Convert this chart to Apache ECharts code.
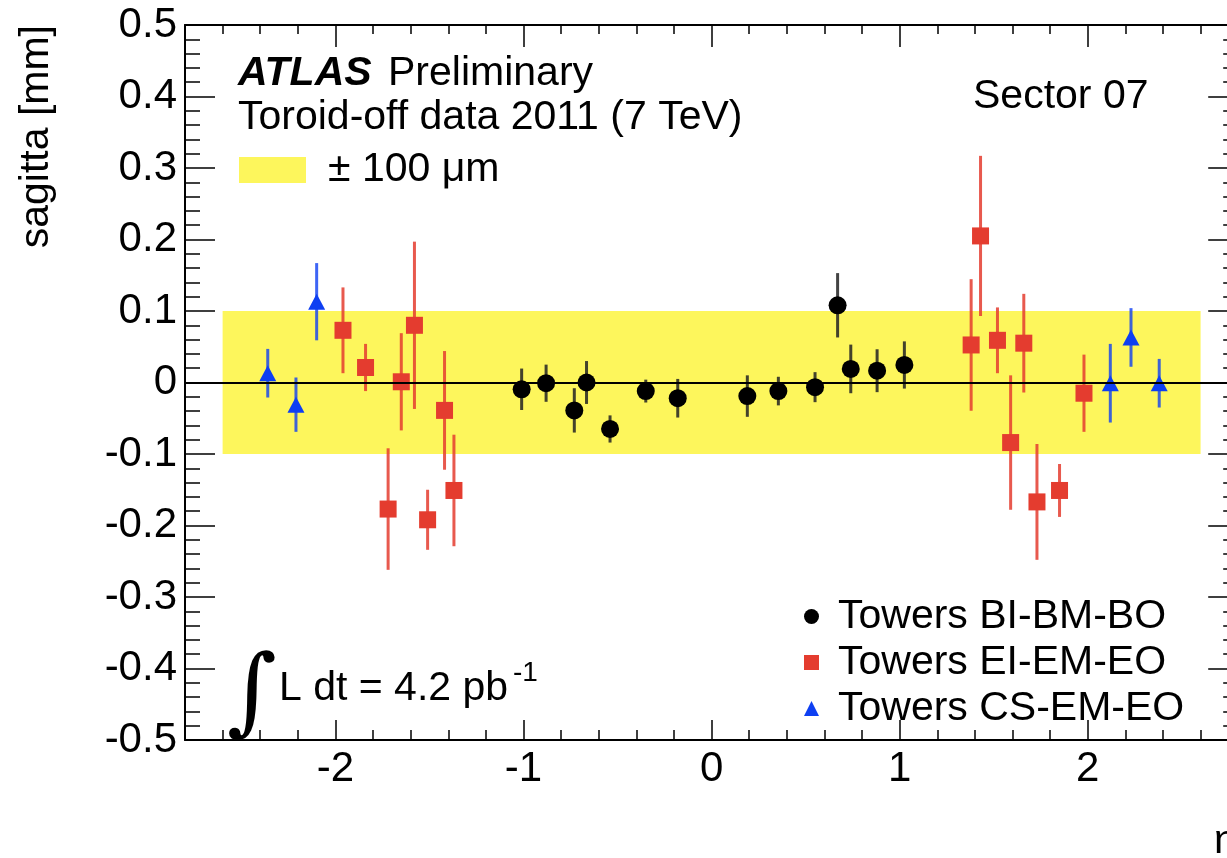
<!DOCTYPE html>
<html>
<head>
<meta charset="utf-8">
<title>Sagitta vs eta, Sector 07</title>
<script src="https://cdn.jsdelivr.net/npm/echarts@6/dist/echarts.min.js"></script>
<style>
  html, body { margin: 0; padding: 0; background: #fff; overflow: hidden; }
  #chart { width: 1240px; height: 858px; }
</style>
</head>
<body>
<div id="chart"></div>
<script>
// Barrel towers (BI-BM-BO)
const barrelEta = [-1.01, -0.88, -0.73, -0.665, -0.54, -0.35, -0.18, 0.19, 0.355, 0.55, 0.67, 0.74, 0.88, 1.025];
const barrelSag = [-0.0095, -0.001, -0.039, 0.000, -0.065, -0.012, -0.022, -0.019, -0.012, -0.0065, 0.108, 0.019, 0.0165, 0.0245];
const barrelErr = [0.029, 0.026, 0.031, 0.030, 0.019, 0.016, 0.027, 0.029, 0.020, 0.021, 0.045, 0.034, 0.030, 0.033];

// Endcap towers (EI-EM-EO)
const endcapEta = [-1.96, -1.84, -1.72, -1.65, -1.58, -1.51, -1.42, -1.37, 1.38, 1.43, 1.52, 1.59, 1.66, 1.73, 1.85, 1.98];
const endcapSag = [0.073, 0.021, -0.177, 0.001, 0.080, -0.192, -0.039, -0.151, 0.0525, 0.205, 0.059, -0.084, 0.055, -0.167, -0.151, -0.015];
const endcapErr = [0.060, 0.033, 0.085, 0.068, 0.117, 0.042, 0.083, 0.078, 0.092, 0.112, 0.046, 0.094, 0.069, 0.081, 0.037, 0.054];

// CSC towers (CS-EM-EO)
const cscEta = [-2.36, -2.21, -2.10, 2.12, 2.23, 2.38];
const cscSag = [0.013, -0.031, 0.113, -0.001, 0.063, -0.001];
const cscErr = [0.034, 0.038, 0.054, 0.055, 0.041, 0.034];

// ±100 µm tolerance band (eta range, sagitta range)
const bandEta = [-2.6, 2.6];
const bandSag = [-0.1, 0.1];

// Axis ranges and labelled ticks
const etaRange = [-2.8, 2.8];
const etaMajorTicks = [-2, -1, 0, 1, 2];
const sagRange = [-0.5, 0.5];

const seriesNames = ['Towers BI-BM-BO', 'Towers EI-EM-EO', 'Towers CS-EM-EO'];

const FONT = '"Liberation Sans", Arial, Helvetica, sans-serif';
const BLACK = '#000000';
const RED = '#e43c2f';
const BLUE = '#0e3ff2';
const YELLOW = '#fdf65c';

function points(eta, sag, err) {
  return eta.map((v, i) => [v, sag[i], err[i]]);
}

// Vertical error bars, drawn beneath the markers
function errorBars(name, eta, sag, err, color, barColor, opacity) {
  return {
    name: name,
    type: 'custom',
    xAxisIndex: 0,
    yAxisIndex: 0,
    z: 3,
    silent: true,
    itemStyle: { color: color },
    encode: { x: 0, y: 1 },
    data: points(eta, sag, err),
    renderItem: function (params, api) {
      const x = api.value(0), y = api.value(1), e = api.value(2);
      const top = api.coord([x, y + e]);
      const bot = api.coord([x, y - e]);
      return {
        type: 'line',
        shape: { x1: top[0], y1: top[1], x2: bot[0], y2: bot[1] },
        style: { stroke: barColor, lineWidth: 3, opacity: opacity }
      };
    }
  };
}

function markers(name, eta, sag, symbol, size, color) {
  return {
    name: name,
    type: 'scatter',
    xAxisIndex: 0,
    yAxisIndex: 0,
    z: 4,
    symbol: symbol,
    symbolSize: size,
    itemStyle: { color: color, opacity: 1 },
    emphasis: { disabled: true },
    data: eta.map((v, i) => [v, sag[i]])
  };
}

const chart = echarts.init(document.getElementById('chart'), null, { renderer: 'canvas' });

const xBase = {
  type: 'value', gridIndex: 0,
  min: etaRange[0], max: etaRange[1],
  splitLine: { show: false }
};
const yBase = {
  type: 'value', gridIndex: 0,
  min: sagRange[0], max: sagRange[1], interval: 0.1,
  splitLine: { show: false }
};

const option = {
  animation: false,
  backgroundColor: '#ffffff',
  grid: { left: 185, right: 1.8, top: 25, bottom: 118, containLabel: false },
  xAxis: [
    Object.assign({}, xBase, {
      position: 'bottom', interval: 0.2,
      axisLine: { show: true, onZero: false, lineStyle: { color: '#000', width: 2 } },
      axisTick: { show: true, inside: true, length: 10, lineStyle: { color: '#000', width: 1.5 } },
      axisLabel: {
        show: true, customValues: etaMajorTicks, margin: 8,
        fontFamily: FONT, fontSize: 42, color: '#000',
        formatter: v => String(Math.round(v))
      }
    }),
    Object.assign({}, xBase, {
      position: 'bottom', interval: 0.2,
      axisLine: { show: false, onZero: false },
      axisTick: { show: true, inside: true, length: 20, customValues: etaMajorTicks, lineStyle: { color: '#000', width: 1.5 } },
      axisLabel: { show: false }
    }),
    Object.assign({}, xBase, {
      position: 'top', interval: 0.2,
      axisLine: { show: true, onZero: false, lineStyle: { color: '#000', width: 2 } },
      axisTick: { show: true, inside: true, length: 9, lineStyle: { color: '#000', width: 1.5 } },
      axisLabel: { show: false }
    }),
    Object.assign({}, xBase, {
      position: 'top', interval: 0.2,
      axisLine: { show: false, onZero: false },
      axisTick: { show: true, inside: true, length: 22, customValues: etaMajorTicks, lineStyle: { color: '#000', width: 1.5 } },
      axisLabel: { show: false }
    })
  ],
  yAxis: [
    Object.assign({}, yBase, {
      position: 'left',
      axisLine: { show: true, onZero: false, lineStyle: { color: '#000', width: 2 } },
      axisTick: { show: true, inside: true, length: 30, lineStyle: { color: '#000', width: 1.5 } },
      minorTick: { show: true, splitNumber: 5, length: 15, lineStyle: { color: '#000', width: 1.5 } },
      axisLabel: {
        show: true, margin: 8,
        fontFamily: FONT, fontSize: 42, color: '#000',
        formatter: v => String(Math.round(v * 10) / 10)
      }
    }),
    Object.assign({}, yBase, {
      position: 'right',
      axisLine: { show: true, onZero: false, lineStyle: { color: '#000', width: 2 } },
      axisTick: { show: true, inside: true, length: 30, lineStyle: { color: '#000', width: 1.5 } },
      minorTick: { show: true, splitNumber: 5, length: 15, lineStyle: { color: '#000', width: 1.5 } },
      axisLabel: { show: false }
    })
  ],
  legend: {
    show: true,
    orient: 'vertical',
    left: 799,
    top: 591,
    itemWidth: 15,
    itemHeight: 15,
    itemGap: 5,
    selectedMode: false,
    data: [
      { name: seriesNames[0], icon: 'circle', itemStyle: { color: BLACK } },
      { name: seriesNames[1], icon: 'rect', itemStyle: { color: RED } },
      { name: seriesNames[2], icon: 'triangle', itemStyle: { color: BLUE } }
    ],
    textStyle: { fontFamily: FONT, fontSize: 41, color: '#000', lineHeight: 40, padding: [0, 0, 0, 14] }
  },
  series: [
    {
      name: 'band',
      type: 'custom',
      xAxisIndex: 0, yAxisIndex: 0,
      z: 1,
      silent: true,
      data: [[bandEta[0], bandSag[0], bandEta[1], bandSag[1]]],
      renderItem: function (params, api) {
        const p0 = api.coord([api.value(0), api.value(3)]);
        const p1 = api.coord([api.value(2), api.value(1)]);
        return {
          type: 'rect',
          shape: { x: p0[0], y: p0[1], width: p1[0] - p0[0], height: p1[1] - p0[1] },
          style: { fill: YELLOW }
        };
      },
      markLine: {
        silent: true,
        symbol: 'none',
        label: { show: false },
        lineStyle: { color: '#000', width: 2, type: 'solid' },
        data: [{ yAxis: 0 }]
      }
    },
    errorBars(seriesNames[0], barrelEta, barrelSag, barrelErr, BLACK, '#222', 0.85),
    errorBars(seriesNames[1], endcapEta, endcapSag, endcapErr, RED, RED, 0.85),
    errorBars(seriesNames[2], cscEta, cscSag, cscErr, BLUE, BLUE, 0.8),
    markers(seriesNames[0], barrelEta, barrelSag, 'circle', 18, BLACK),
    markers(seriesNames[1], endcapEta, endcapSag, 'rect', 17, RED),
    markers(seriesNames[2], cscEta, cscSag, 'triangle', [17, 16], BLUE)
  ],
  graphic: [
    { type: 'text', x: 238, y: 74, style: { text: 'ATLAS', font: 'italic bold 41px ' + FONT, fill: '#000', verticalAlign: 'middle' } },
    { type: 'text', x: 388, y: 74, style: { text: 'Preliminary', font: '41px ' + FONT, fill: '#000', verticalAlign: 'middle' } },
    { type: 'text', x: 238, y: 118, style: { text: 'Toroid-off data 2011 (7 TeV)', font: '41px ' + FONT, fill: '#000', verticalAlign: 'middle' } },
    { type: 'rect', shape: { x: 239, y: 157, width: 67, height: 26 }, style: { fill: YELLOW } },
    { type: 'text', x: 328, y: 170, style: { text: '± 100 μm', font: '41px ' + FONT, fill: '#000', verticalAlign: 'middle' } },
    { type: 'text', x: 973, y: 97, style: { text: 'Sector 07', font: '41px ' + FONT, fill: '#000', verticalAlign: 'middle' } },
    { type: 'text', x: 227, y: 698, style: { text: '∫', font: '96px "DejaVu Serif"', fill: '#000', verticalAlign: 'middle' } },
    { type: 'text', x: 279, y: 689, style: { text: 'L dt = 4.2 pb', font: '41px ' + FONT, fill: '#000', verticalAlign: 'middle' } },
    { type: 'text', x: 513, y: 673, style: { text: '-1', font: '28px ' + FONT, fill: '#000', verticalAlign: 'middle' } },
    { type: 'text', x: 37, y: 25, rotation: Math.PI / 2, style: { text: 'sagitta [mm]', font: '41px ' + FONT, fill: '#000', align: 'right', verticalAlign: 'middle' } },
    { type: 'text', x: 1214, y: 842, style: { text: 'η', font: '41px ' + FONT, fill: '#000', verticalAlign: 'middle' } }
  ]
};

chart.setOption(option);
</script>
</body>
</html>
